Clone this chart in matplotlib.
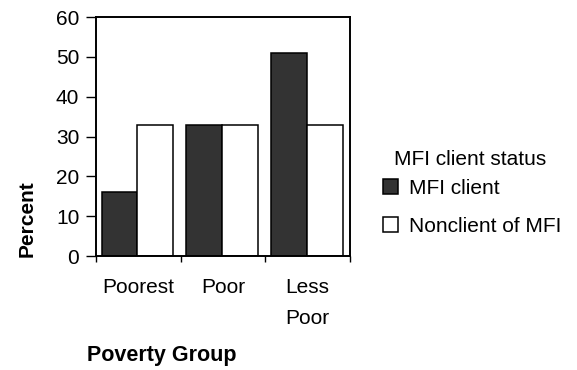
import matplotlib
matplotlib.use("Agg")
import matplotlib.pyplot as plt
import numpy as np

categories = ["Poorest", "Poor", "Less\nPoor"]
mfi_client = [16, 33, 51]
nonclient = [33, 33, 33]
series_names = ["MFI client", "Nonclient of MFI"]
legend_title = "MFI client status"
y_ticks = [0, 10, 20, 30, 40, 50, 60]

plt.rcParams["font.family"] = ["Liberation Sans", "DejaVu Sans"]
fs = 15

fig = plt.figure(figsize=(5.77, 3.70), dpi=100)
ax = fig.add_axes([96 / 577, 1 - 256 / 370, 254 / 577, 239 / 370])

x = np.arange(len(categories))
w = 0.425
b1 = ax.bar(x - w / 2 - 0.01, mfi_client, w, color="#333333", edgecolor="black", linewidth=1.1)
b2 = ax.bar(x + w / 2 - 0.01, nonclient, w, color="white", edgecolor="black", linewidth=1.1)

ax.set_xlim(-0.5, 2.5)
ax.set_ylim(0, 60)
ax.set_yticks(y_ticks)
ax.set_yticklabels([str(v) for v in y_ticks], fontsize=fs)
ax.set_xticks([-0.5, 0.5, 1.5, 2.5])
ax.set_xticklabels([])
ax.set_xticks(x, minor=True)
ax.set_xticklabels(categories, minor=True, fontsize=fs, linespacing=1.8)
ax.tick_params(axis="x", which="minor", length=0, pad=16)
ax.tick_params(axis="x", which="major", length=4.5, direction="out", width=1)
ax.tick_params(axis="y", length=7, width=1, pad=5)
for s in ax.spines.values():
    s.set_linewidth(1.4)

fig.text(27 / 577, 1 - 219 / 370, "Percent", rotation=90, fontsize=fs,
         fontweight="bold", ha="center", va="center")
fig.text(162 / 577, 1 - 355 / 370, "Poverty Group", fontsize=15.5,
         fontweight="bold", ha="center", va="center")

# legend title drawn separately so its gap to the entries can be set freely
fig.text(470 / 577, 1 - 165 / 370, legend_title, fontsize=fs,
         ha="center", va="baseline")
leg = fig.legend([b1, b2], series_names, fontsize=fs,
                 frameon=False, loc="upper left",
                 bbox_to_anchor=(383 / 577, 1 - 179 / 370),
                 handlelength=0.72, handleheight=0.72, handletextpad=0.55,
                 labelspacing=0.89, borderaxespad=0, borderpad=0)

fig.savefig("out.png", dpi=100)
